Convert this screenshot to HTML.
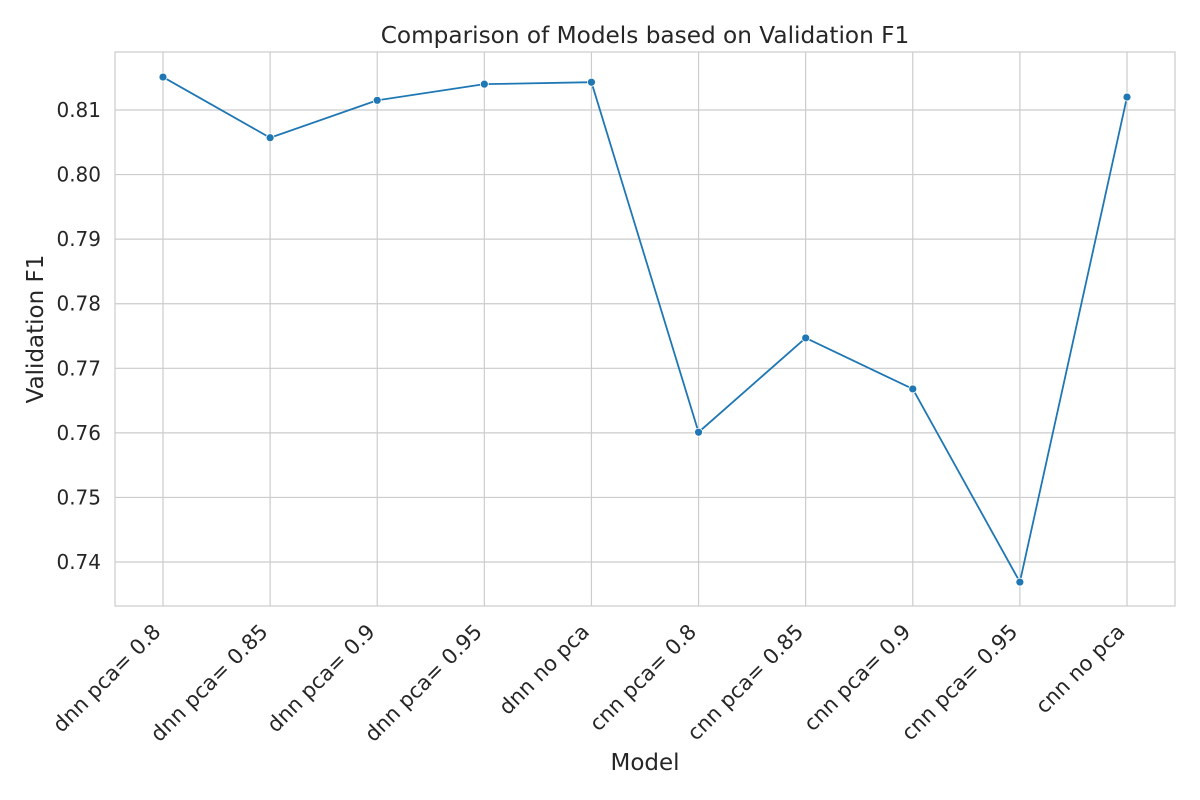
<!DOCTYPE html>
<html><head><meta charset="utf-8"><style>
html,body{margin:0;padding:0;background:#fff;}
svg{display:block;font-family:"DejaVu Sans","Liberation Sans",sans-serif;}
</style></head><body>
<svg id="chart" width="1200" height="800"></svg>
<script>
const categories = ["dnn pca= 0.8","dnn pca= 0.85","dnn pca= 0.9","dnn pca= 0.95","dnn no pca","cnn pca= 0.8","cnn pca= 0.85","cnn pca= 0.9","cnn pca= 0.95","cnn no pca"];
const f1Values = [0.8151,0.8057,0.8115,0.8140,0.8143,0.7601,0.7747,0.7668,0.7369,0.8120];
const yTicks = [0.74,0.75,0.76,0.77,0.78,0.79,0.80,0.81];
const yMin = 0.73319, yMax = 0.81898;

const NS = "http://www.w3.org/2000/svg";
const svg = document.getElementById("chart");
const L = 115, R = 1175, T = 52, B = 606;
const n = categories.length;
const xPad = 48;
function xScale(i){ return L + xPad + i * ((R - L - 2 * xPad) / (n - 1)); }
function yScale(v){ return B - (v - yMin) / (yMax - yMin) * (B - T); }
function mk(tag, attrs, parent){ const e = document.createElementNS(NS, tag); for (const k in attrs) e.setAttribute(k, attrs[k]); (parent || svg).appendChild(e); return e; }

const grid = mk("g", {});


yTicks.forEach(t => {
  const y = yScale(t);
  const gl = mk("line", {x1: L, x2: R, y1: y, y2: y, stroke: "#cccccc", "stroke-width": 1.2}, grid);
  
  
  const tl = mk("text", {x: L - 14, y: y + 7, "text-anchor": "end", "font-size": 20, fill: "#262626"}, svg);
  tl.textContent = t.toFixed(2);
  
  
});
categories.forEach((c, i) => {
  const x = xScale(i);
  const gl = mk("line", {x1: x, x2: x, y1: T, y2: B, stroke: "#cccccc", "stroke-width": 1.2}, grid);
  
  
  const ax = x - 1, ay = B + 27;
  const tl = mk("text", {x: ax, y: ay, "text-anchor": "end", "font-size": 21, fill: "#262626", transform: `rotate(-45 ${ax} ${ay})`}, svg);
  tl.textContent = c;
  
  
});
const frame = mk("rect", {x: L, y: T, width: R - L, height: B - T, fill: "none", stroke: "#cccccc", "stroke-width": 1.2});



const pts = f1Values.map((v, i) => xScale(i) + "," + yScale(v)).join(" ");
const line = mk("polyline", {points: pts, fill: "none", stroke: "#1f77b4", "stroke-width": 1.8});


f1Values.forEach((v, i) => {
  const c = mk("circle", {cx: xScale(i), cy: yScale(v), r: 4, fill: "#1f77b4", stroke: "#fff", "stroke-width": 0.8});
  
  
});

const title = mk("text", {x: (L + R) / 2, y: 43, "text-anchor": "middle", "font-size": 23.2, fill: "#262626"});
title.textContent = "Comparison of Models based on Validation F1";


const xt = mk("text", {x: (L + R) / 2, y: 770, "text-anchor": "middle", "font-size": 23, fill: "#262626"});
xt.textContent = "Model";


const yt = mk("text", {x: 43, y: (T + B) / 2, "text-anchor": "middle", "font-size": 23, fill: "#262626", transform: `rotate(-90 43 ${(T + B) / 2})`});
yt.textContent = "Validation F1";


</script>
</body></html>
